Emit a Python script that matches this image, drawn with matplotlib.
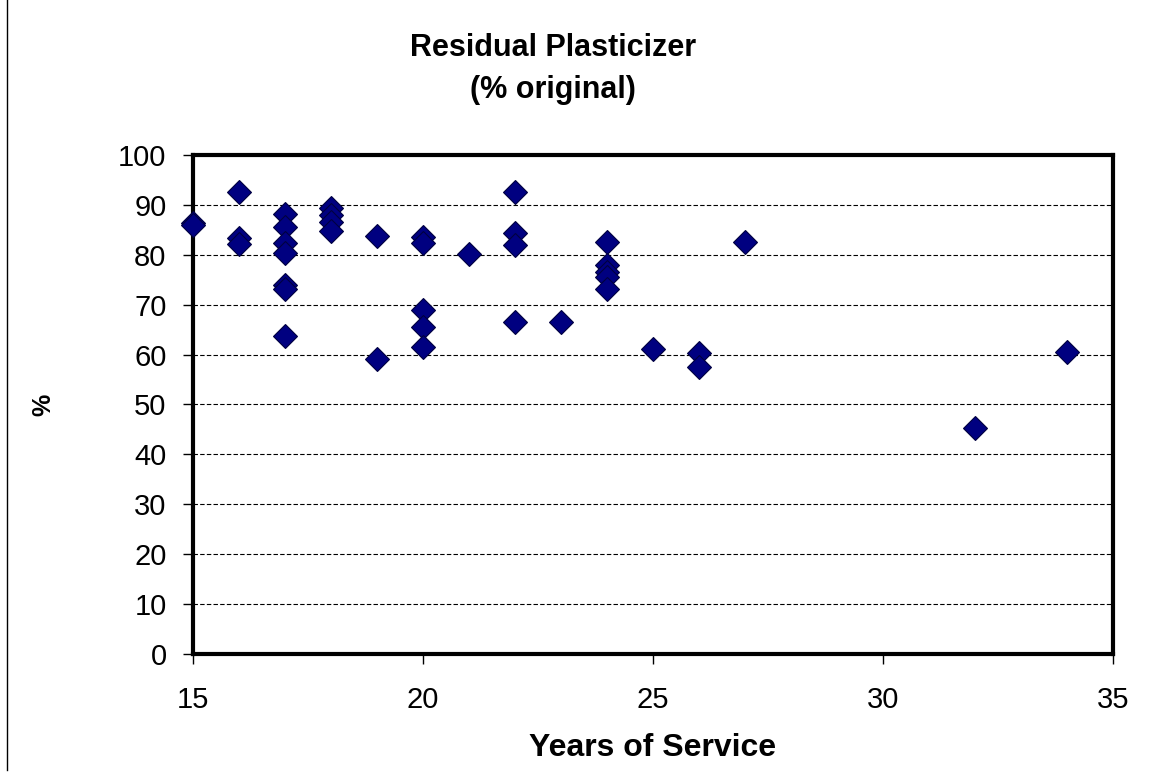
import numpy as np
import matplotlib.pyplot as plt
from matplotlib.lines import Line2D

plt.rcParams['font.family'] = ['Liberation Sans', 'DejaVu Sans']

# years of service and residual plasticizer (% of original)
years = [15, 15,
         16, 16, 16,
         17, 17, 17, 17, 17, 17, 17,
         18, 18, 18, 18,
         19, 19,
         20, 20, 20, 20, 20,
         21,
         22, 22, 22, 22,
         23,
         24, 24, 24, 24, 24,
         25,
         26, 26,
         27,
         32,
         34]
residual = [86.4, 86.0,
            92.5, 83.4, 82.2,
            88.2, 85.6, 82.4, 80.3, 73.9, 73.2, 63.7,
            89.3, 88.0, 86.6, 84.8,
            83.8, 59.1,
            83.6, 82.3, 68.9, 65.6, 61.6,
            80.2,
            92.5, 84.4, 81.9, 66.5,
            66.5,
            82.5, 78.0, 76.6, 75.6, 73.1,
            61.1,
            60.3, 57.6,
            82.6,
            45.2,
            60.5]

fig = plt.figure(figsize=(11.52, 7.82), dpi=100)
ax = fig.add_axes([0.1675, 0.1637, 0.7985, 0.6381])

ax.plot(years, residual, linestyle='none', marker='D', markersize=12,
        markerfacecolor='#000080', markeredgecolor='#000040', markeredgewidth=0.8,
        clip_on=False, zorder=5)

ax.set_xlim(15, 35)
ax.set_ylim(0, 100)
ax.set_xticks(np.arange(15, 36, 5))
ax.set_yticks(np.arange(0, 101, 10))
ax.grid(axis='y', color='black', linestyle=(0, (4, 2)), linewidth=0.8)
ax.set_axisbelow(True)

for s in ax.spines.values():
    s.set_linewidth(3)
    s.set_color('black')

ax.tick_params(direction='out', length=7, width=1, labelsize=21)
ax.tick_params(axis='x', pad=16)
ax.tick_params(axis='y', pad=12)

ax.set_xlabel('Years of Service', fontsize=23, fontweight='bold', va='center')
ax.xaxis.set_label_coords(0.5, -0.188)
ax.set_ylabel('%', fontsize=18, fontweight='bold', va='center')
ax.yaxis.set_label_coords(-0.163, 0.5)

fig.text(553 / 1152, 1 - 69 / 782, 'Residual Plasticizer\n(% original)', fontsize=22,
         fontweight='bold', ha='center', va='center', linespacing=1.55)

# thin border line at the left edge of the picture
fig.add_artist(Line2D([7 / 1152, 7 / 1152], [0.015, 1.0], color='black', linewidth=1))

fig.savefig('out.png', dpi=100)
